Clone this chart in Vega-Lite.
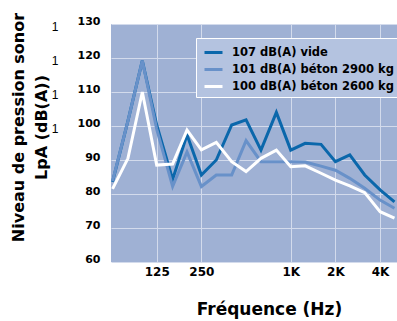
{
  "$schema": "https://vega.github.io/schema/vega-lite/v6.json",
  "width": 286,
  "height": 238,
  "autosize": {"type": "none"},
  "padding": {"left": 111, "top": 24, "right": 0, "bottom": 59},
  "background": "white",
  "config": {
    "view": {"stroke": null, "fill": "#9fb1d4"},
    "font": "DejaVu Sans"
  },
  "data": {
    "values": [
      {"serie": "107 dB(A) vide", "freq": 63, "db": 83.6},
      {"serie": "107 dB(A) vide", "freq": 80, "db": 101.5},
      {"serie": "107 dB(A) vide", "freq": 100, "db": 119.2},
      {"serie": "107 dB(A) vide", "freq": 125, "db": 100.3},
      {"serie": "107 dB(A) vide", "freq": 160, "db": 84.3},
      {"serie": "107 dB(A) vide", "freq": 200, "db": 97.4},
      {"serie": "107 dB(A) vide", "freq": 250, "db": 85.6},
      {"serie": "107 dB(A) vide", "freq": 315, "db": 90},
      {"serie": "107 dB(A) vide", "freq": 400, "db": 100.3},
      {"serie": "107 dB(A) vide", "freq": 500, "db": 101.8},
      {"serie": "107 dB(A) vide", "freq": 630, "db": 92.9},
      {"serie": "107 dB(A) vide", "freq": 800, "db": 104},
      {"serie": "107 dB(A) vide", "freq": 1000, "db": 92.9},
      {"serie": "107 dB(A) vide", "freq": 1250, "db": 94.9},
      {"serie": "107 dB(A) vide", "freq": 1600, "db": 94.6},
      {"serie": "107 dB(A) vide", "freq": 2000, "db": 89.5},
      {"serie": "107 dB(A) vide", "freq": 2500, "db": 91.5},
      {"serie": "107 dB(A) vide", "freq": 3150, "db": 85.6},
      {"serie": "107 dB(A) vide", "freq": 4000, "db": 81.2},
      {"serie": "107 dB(A) vide", "freq": 5000, "db": 77.7},
      {"serie": "101 dB(A) béton 2900 kg", "freq": 63, "db": 83.8},
      {"serie": "101 dB(A) béton 2900 kg", "freq": 80, "db": 101.5},
      {"serie": "101 dB(A) béton 2900 kg", "freq": 100, "db": 119.2},
      {"serie": "101 dB(A) béton 2900 kg", "freq": 125, "db": 99.1},
      {"serie": "101 dB(A) béton 2900 kg", "freq": 160, "db": 82.2},
      {"serie": "101 dB(A) béton 2900 kg", "freq": 200, "db": 92.4},
      {"serie": "101 dB(A) béton 2900 kg", "freq": 250, "db": 82.2},
      {"serie": "101 dB(A) béton 2900 kg", "freq": 315, "db": 85.6},
      {"serie": "101 dB(A) béton 2900 kg", "freq": 400, "db": 85.6},
      {"serie": "101 dB(A) béton 2900 kg", "freq": 500, "db": 95.7},
      {"serie": "101 dB(A) béton 2900 kg", "freq": 630, "db": 89.5},
      {"serie": "101 dB(A) béton 2900 kg", "freq": 800, "db": 89.5},
      {"serie": "101 dB(A) béton 2900 kg", "freq": 1000, "db": 89.5},
      {"serie": "101 dB(A) béton 2900 kg", "freq": 1250, "db": 89.4},
      {"serie": "101 dB(A) béton 2900 kg", "freq": 1600, "db": 88.2},
      {"serie": "101 dB(A) béton 2900 kg", "freq": 2000, "db": 87},
      {"serie": "101 dB(A) béton 2900 kg", "freq": 2500, "db": 84.6},
      {"serie": "101 dB(A) béton 2900 kg", "freq": 3150, "db": 81.7},
      {"serie": "101 dB(A) béton 2900 kg", "freq": 4000, "db": 78.2},
      {"serie": "101 dB(A) béton 2900 kg", "freq": 5000, "db": 75.8},
      {"serie": "100 dB(A) béton 2600 kg", "freq": 63, "db": 81.5},
      {"serie": "100 dB(A) béton 2600 kg", "freq": 80, "db": 90.5},
      {"serie": "100 dB(A) béton 2600 kg", "freq": 100, "db": 110},
      {"serie": "100 dB(A) béton 2600 kg", "freq": 125, "db": 88.5},
      {"serie": "100 dB(A) béton 2600 kg", "freq": 160, "db": 88.8},
      {"serie": "100 dB(A) béton 2600 kg", "freq": 200, "db": 98.8},
      {"serie": "100 dB(A) béton 2600 kg", "freq": 250, "db": 93},
      {"serie": "100 dB(A) béton 2600 kg", "freq": 315, "db": 95.2},
      {"serie": "100 dB(A) béton 2600 kg", "freq": 400, "db": 89.5},
      {"serie": "100 dB(A) béton 2600 kg", "freq": 500, "db": 86.6},
      {"serie": "100 dB(A) béton 2600 kg", "freq": 630, "db": 90.5},
      {"serie": "100 dB(A) béton 2600 kg", "freq": 800, "db": 92.9},
      {"serie": "100 dB(A) béton 2600 kg", "freq": 1000, "db": 88},
      {"serie": "100 dB(A) béton 2600 kg", "freq": 1250, "db": 88.3},
      {"serie": "100 dB(A) béton 2600 kg", "freq": 1600, "db": 86.1},
      {"serie": "100 dB(A) béton 2600 kg", "freq": 2000, "db": 84.1},
      {"serie": "100 dB(A) béton 2600 kg", "freq": 2500, "db": 82.4},
      {"serie": "100 dB(A) béton 2600 kg", "freq": 3150, "db": 80.4},
      {"serie": "100 dB(A) béton 2600 kg", "freq": 4000, "db": 74.8},
      {"serie": "100 dB(A) béton 2600 kg", "freq": 5000, "db": 72.9}
    ]
  },
  "resolve": {"axis": {"y": "independent"}},
  "layer": [
    {
      "mark": {"type": "line", "strokeWidth": 3, "strokeJoin": "miter"},
      "encoding": {
        "x": {
          "field": "freq", "type": "quantitative",
          "scale": {"type": "log", "domain": [61.5, 5200], "nice": false},
          "axis": {
            "values": [125, 250, 1000, 2000, 4000],
            "labelExpr": "datum.value >= 1000 ? (datum.value / 1000) + 'K' : datum.label",
            "labelFont": "DejaVu Sans", "labelFontWeight": "bold", "labelFontSize": 12, "labelColor": "black",
            "labelPadding": 4, "labelFlush": false, "labelOverlap": false,
            "domain": false, "ticks": false,
            "grid": true, "gridColor": "#d3dbec", "gridWidth": 1,
            "title": "Fréquence (Hz)",
            "titleFont": "DejaVu Sans", "titleFontWeight": "bold", "titleFontSize": 17, "titleColor": "black",
            "titleX": 158, "titleY": 52, "titleAlign": "center", "titleBaseline": "alphabetic"
          }
        },
        "y": {
          "field": "db", "type": "quantitative",
          "scale": {"domain": [60, 130], "nice": false, "zero": false},
          "axis": {
            "values": [60, 70, 80, 90, 100, 110, 120, 130],
            "labelFont": "DejaVu Sans", "labelFontWeight": "bold", "labelFontSize": 11, "labelColor": "black",
            "labelPadding": 11, "labelOffset": -3,
            "domain": false, "ticks": false,
            "grid": true, "gridColor": "#d3dbec", "gridWidth": 1,
            "title": ["Niveau de pression sonor", "LpA (dB(A))"],
            "titleFont": "DejaVu Sans", "titleFontWeight": "bold", "titleFontSize": 16, "titleColor": "black",
            "titleLineHeight": 23, "titleAngle": 270,
            "titleX": -88, "titleY": 103, "titleAlign": "center", "titleBaseline": "alphabetic"
          }
        },
        "color": {
          "field": "serie", "type": "nominal",
          "scale": {
            "domain": ["107 dB(A) vide", "101 dB(A) béton 2900 kg", "100 dB(A) béton 2600 kg"],
            "range": ["#0a67ab", "#6891c9", "#ffffff"]
          },
          "legend": {
            "title": null, "orient": "none", "legendX": 85, "legendY": 14,
            "fillColor": "#b4c3e0", "strokeColor": "white", "padding": 4,
            "symbolType": "stroke", "symbolSize": 324, "symbolStrokeWidth": 3, "symbolOffset": 3,
            "labelFont": "DejaVu Sans", "labelFontWeight": "bold", "labelFontSize": 11.5, "labelColor": "black",
            "labelOffset": 8, "rowPadding": -2, "labelLimit": 300
          }
        }
      }
    },
    {
      "mark": {"type": "point", "opacity": 0},
      "encoding": {
        "x": {"field": "freq", "type": "quantitative"},
        "y": {
          "field": "db", "type": "quantitative",
          "axis": {
            "values": [60, 70, 80, 90, 100, 110, 120, 130],
            "labelExpr": "datum.value >= 100 ? '1' : ''",
            "labelFont": "Liberation Sans", "labelFontSize": 12, "labelColor": "black",
            "labelPadding": 8, "labelOffset": 2, "offset": 45, "orient": "left",
            "domain": false, "ticks": false, "grid": false, "title": null
          }
        }
      }
    }
  ]
}
